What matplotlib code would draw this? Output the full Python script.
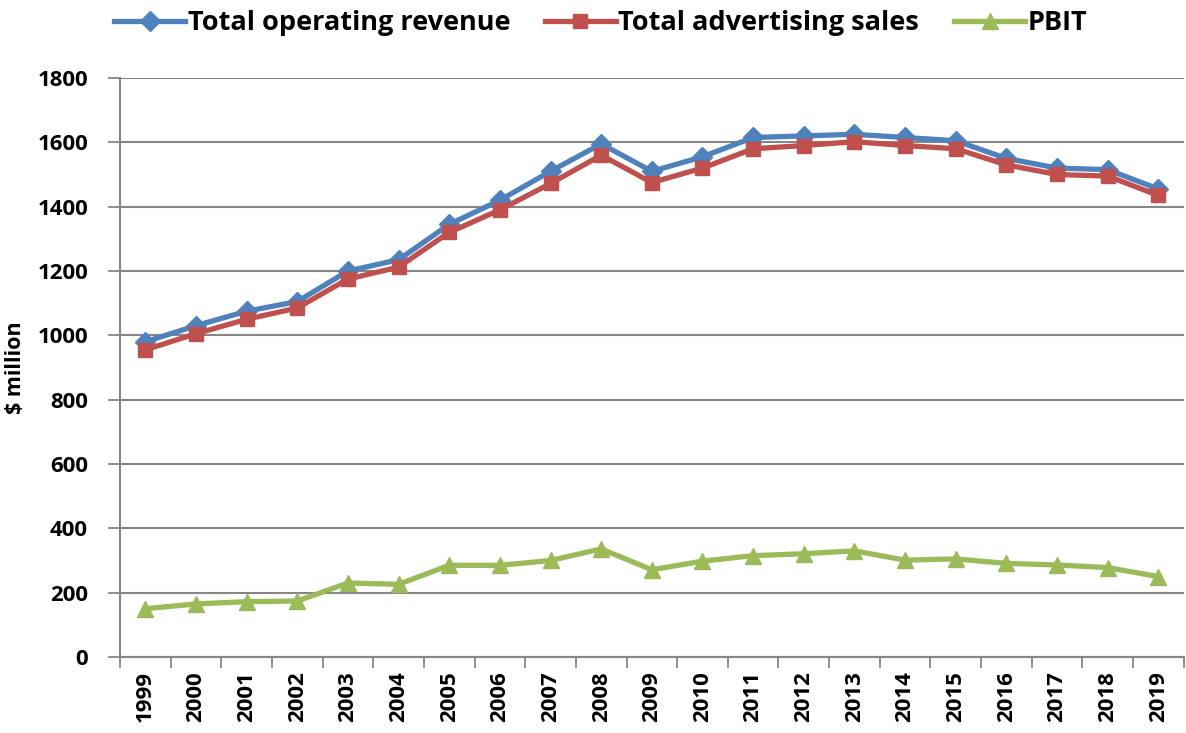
import numpy as np
import matplotlib
matplotlib.use('Agg')
import matplotlib.pyplot as plt

years = [str(y) for y in range(1999, 2020)]
revenue = [980, 1030, 1075, 1105, 1200, 1235, 1345, 1420, 1510, 1595, 1510,
           1555, 1615, 1620, 1625, 1615, 1605, 1550, 1520, 1515, 1455]
advertising = [955, 1005, 1050, 1085, 1175, 1212, 1320, 1390, 1472, 1560, 1475,
               1520, 1580, 1590, 1602, 1590, 1580, 1530, 1500, 1495, 1435]
pbit = [150, 165, 172, 174, 230, 226, 285, 285, 300, 336, 271,
        298, 315, 321, 330, 301, 305, 291, 286, 278, 250]

plt.rcParams['font.family'] = ['Open Sans', 'DejaVu Sans']
plt.rcParams['font.weight'] = 'bold'

fig = plt.figure(figsize=(11.86, 7.33), dpi=100)
ax = fig.add_axes([0.1012, 0.1037, 0.8968, 0.7899])

x = np.arange(len(years))
ax.plot(x, revenue, color='#4F81BD', lw=3.8, marker='D', ms=10, label='Total operating revenue')
ax.plot(x, advertising, color='#C0504D', lw=3.8, marker='s', ms=10, label='Total advertising sales')
ax.plot(x, pbit, color='#9BBB59', lw=3.8, marker='^', ms=12, label='PBIT')

ax.set_xlim(-0.5, len(years) - 0.5)
ax.set_ylim(0, 1800)
ax.set_yticks(range(0, 1801, 200))
ax.set_xticks(x)
ax.set_xticklabels(years, rotation=90, fontsize=16, fontweight='bold')
ax.set_xticks(np.arange(-0.5, len(years)), minor=True)
ax.tick_params(axis='x', which='major', length=0, pad=10)
ax.tick_params(axis='x', which='minor', length=8, color='#868686', width=1.3, direction='out')
ax.tick_params(axis='y', length=9, color='#868686', width=1.3, direction='out', labelsize=16, pad=14)
for lbl in ax.get_yticklabels():
    lbl.set_fontweight('bold')

ax.grid(axis='y', color='#868686', lw=1.5)
ax.set_axisbelow(True)
for s in ['top', 'right']:
    ax.spines[s].set_visible(False)
for s in ['left', 'bottom']:
    ax.spines[s].set_color('#868686')
    ax.spines[s].set_linewidth(1.5)

ax.set_ylabel('$ million', fontsize=15.5, fontweight='bold', labelpad=8)

leg = ax.legend(loc='lower center', bbox_to_anchor=(0.452, 1.03), ncol=3, frameon=False,
                prop={'size': 19.5, 'weight': 'bold'}, handlelength=2.6, handletextpad=0.1,
                columnspacing=1.3)

fig.savefig('out.png', dpi=100)
